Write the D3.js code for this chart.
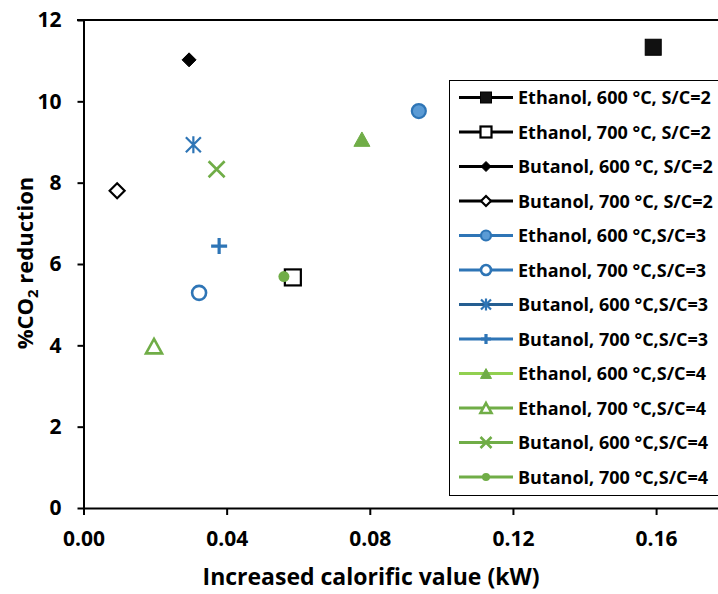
<!DOCTYPE html>
<html>
<head>
<meta charset="utf-8">
<script src="https://cdn.jsdelivr.net/npm/d3@7"></script>
<style>
  body { margin: 0; background: #fff; }
  text { font-family: "Open Sans", "Liberation Sans", sans-serif; font-weight: bold; }
</style>
</head>
<body>
<div id="chart"></div>
<script>
// series labels and values
const seriesNames = [
  "Ethanol, 600 °C, S/C=2", "Ethanol, 700 °C, S/C=2",
  "Butanol, 600 °C, S/C=2", "Butanol, 700 °C, S/C=2",
  "Ethanol, 600 °C,S/C=3", "Ethanol, 700 °C,S/C=3",
  "Butanol, 600 °C,S/C=3", "Butanol, 700 °C,S/C=3",
  "Ethanol, 600 °C,S/C=4", "Ethanol, 700 °C,S/C=4",
  "Butanol, 600 °C,S/C=4", "Butanol, 700 °C,S/C=4"
];
const calorific = [0.1592, 0.0585, 0.0295, 0.0094, 0.0937, 0.0323, 0.0307, 0.0379, 0.0778, 0.0197, 0.0372, 0.0560];
const co2Reduction = [11.33, 5.67, 11.02, 7.80, 9.76, 5.29, 8.93, 6.44, 9.07, 3.98, 8.33, 5.69];
const xTicks = [0, 0.04, 0.08, 0.12, 0.16];
const yTicks = [0, 2, 4, 6, 8, 10, 12];

// marker look per series
const markerType = ["square", "squareOpen", "diamond", "diamondOpen", "circle", "circleOpen",
                    "asterisk", "plus", "triangle", "triangleOpen", "cross", "dot"];
const markerColor = ["#000", "#000", "#000", "#000", "#2E75B6", "#2E75B6",
                     "#2E75B6", "#2E75B6", "#70AD47", "#70AD47", "#70AD47", "#70AD47"];
const lineColor = ["#000", "#000", "#000", "#000", "#2E75B6", "#2E75B6",
                   "#255E91", "#2E75B6", "#92D050", "#70AD47", "#70AD47", "#70AD47"];

const W = 718, H = 594;
const svg = d3.select("#chart").append("svg")
  .attr("width", W).attr("height", H);

const x = d3.scaleLinear().domain([0, 0.1773]).range([83.5, 718]);
const y = d3.scaleLinear().domain([0, 12]).range([508, 20]);

// top border of the plot area
svg.append("line")
  .attr("x1", 77).attr("x2", W)
  .attr("y1", y(12)).attr("y2", y(12))
  .attr("stroke", "#000").attr("stroke-width", 2);

const yAxis = svg.append("g")
  .attr("transform", "translate(" + x(0) + ",0)")
  .call(d3.axisLeft(y).tickValues(yTicks).tickSize(6).tickPadding(16).tickSizeOuter(0));
const xAxis = svg.append("g")
  .attr("transform", "translate(0," + y(0) + ")")
  .call(d3.axisBottom(x).tickValues(xTicks).tickFormat(d3.format(".2f")).tickSize(7).tickPadding(16).tickSizeOuter(0));

[xAxis, yAxis].forEach(function(a) {
  a.selectAll("path, line").attr("stroke", "#000").attr("stroke-width", 2);
  a.selectAll("text").attr("font-size", 21).attr("fill", "#000");
});

// axis titles
svg.append("text")
  .attr("x", 371).attr("y", 585)
  .attr("text-anchor", "middle")
  .attr("font-size", 23)
  .text("Increased calorific value (kW)");

const yt = svg.append("text")
  .attr("transform", "translate(33,263) rotate(-90)")
  .attr("text-anchor", "middle")
  .attr("font-size", 22);
yt.append("tspan").text("%CO");
yt.append("tspan").attr("font-size", 15).attr("dy", 5).text("2");
yt.append("tspan").attr("dy", -5).text(" reduction");

// marker shapes, s = nominal width in px
function marker(g, type, s, color) {
  const sw = 2.2;
  const h = s / 2;
  if (type === "square" || type === "squareOpen") {
    g.append("rect").attr("x", -h).attr("y", -h).attr("width", s).attr("height", s)
      .attr("fill", type === "square" ? "#111" : "#fff")
      .attr("stroke", color).attr("stroke-width", type === "square" ? 1 : sw);
  } else if (type === "diamond" || type === "diamondOpen") {
    g.append("path").attr("d", "M0," + (-h) + "L" + h + ",0L0," + h + "L" + (-h) + ",0Z")
      .attr("fill", type === "diamond" ? color : "#fff")
      .attr("stroke", color).attr("stroke-width", type === "diamond" ? 1 : sw);
  } else if (type === "circle") {
    g.append("circle").attr("r", h - 1).attr("fill", "#5B9BD5")
      .attr("stroke", color).attr("stroke-width", sw);
  } else if (type === "circleOpen") {
    g.append("circle").attr("r", h - 1).attr("fill", "#fff")
      .attr("stroke", color).attr("stroke-width", sw + 0.4);
  } else if (type === "dot") {
    g.append("circle").attr("r", h).attr("fill", color);
  } else if (type === "triangle" || type === "triangleOpen") {
    const th = s * 0.9;
    g.append("path").attr("d", "M0," + (-th / 2) + "L" + h + "," + (th / 2) + "L" + (-h) + "," + (th / 2) + "Z")
      .attr("fill", type === "triangle" ? color : "#fff")
      .attr("stroke", color).attr("stroke-width", type === "triangle" ? 1 : sw + 0.4)
      .attr("stroke-linejoin", "miter");
  } else if (type === "plus") {
    g.append("path").attr("d", "M" + (-h) + ",0H" + h + "M0," + (-h) + "V" + h)
      .attr("stroke", color).attr("stroke-width", 3.2).attr("fill", "none");
  } else if (type === "cross") {
    g.append("path").attr("d", "M" + (-h) + "," + (-h) + "L" + h + "," + h + "M" + h + "," + (-h) + "L" + (-h) + "," + h)
      .attr("stroke", color).attr("stroke-width", 2.6).attr("fill", "none");
  } else if (type === "asterisk") {
    g.append("path").attr("d", "M" + (-h) + "," + (-h) + "L" + h + "," + h + "M" + h + "," + (-h) + "L" + (-h) + "," + h + "M0," + (-h - 1) + "V" + (h + 1))
      .attr("stroke", color).attr("stroke-width", 2.2).attr("fill", "none");
  }
}

const scatterSize = { square: 16, squareOpen: 16, diamond: 14, diamondOpen: 15, circle: 16, circleOpen: 16,
  asterisk: 15, plus: 16, triangle: 16, triangleOpen: 16, cross: 16, dot: 11 };
const legendSize = { square: 11, squareOpen: 11, diamond: 10, diamondOpen: 10, circle: 12, circleOpen: 12,
  asterisk: 10, plus: 10, triangle: 11, triangleOpen: 11, cross: 11, dot: 8 };

// scatter points
seriesNames.forEach(function(name, i) {
  const g = svg.append("g").attr("transform", "translate(" + x(calorific[i]) + "," + y(co2Reduction[i]) + ")");
  marker(g, markerType[i], scatterSize[markerType[i]], markerColor[i]);
});

// legend
const legend = svg.append("g");
legend.append("rect")
  .attr("x", 449.5).attr("y", 80.5).attr("width", 300).attr("height", 415)
  .attr("fill", "#fff").attr("stroke", "#000").attr("stroke-width", 1);

seriesNames.forEach(function(name, i) {
  const ly = 97.5 + i * 34.5;
  const row = legend.append("g").attr("transform", "translate(0," + ly + ")");
  row.append("line").attr("x1", 459).attr("x2", 513).attr("y1", 0).attr("y2", 0)
    .attr("stroke", lineColor[i]).attr("stroke-width", 3.2);
  const mg = row.append("g").attr("transform", "translate(486,0)");
  marker(mg, markerType[i], legendSize[markerType[i]], markerColor[i]);
  row.append("text").attr("x", 518).attr("y", 6.5)
    .attr("font-size", 18).attr("fill", "#000")
    .text(name);
});
</script>
</body>
</html>
